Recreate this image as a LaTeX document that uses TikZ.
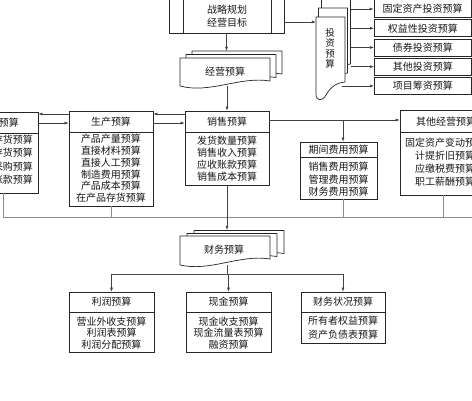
\documentclass[tikz,border=0pt]{standalone}
\usepackage{fontspec}
\setmainfont{Noto Sans CJK SC}
\usetikzlibrary{arrows.meta,fit}
\newcommand{\invdoc}{(316,17) -- (345,17) -- (345,82) .. controls (335,83) and (330,88) .. (326,95) .. controls (322,102) and (316,101) .. (316,94) -- cycle}
\newcommand{\opbdoc}{(180,58) -- (270,58) -- (270,81) .. controls (240,76) and (210,94) .. (180,86) -- cycle}
\newcommand{\findoc}{(180,236) -- (270,236) -- (270,259) .. controls (240,254) and (210,272) .. (180,265) -- cycle}
\begin{document}
\begin{tikzpicture}[x=1pt,y=-1pt,
  bx/.style={draw=black!85, line width=0.7pt, fill=white, inner sep=0pt},
  ghost/.style={inner sep=0pt},
  hl/.style={draw=black!85, line width=0.7pt},
  tx/.style={font=\fontsize{10}{12}\selectfont, inner sep=0pt, text=black!90},
  arr/.style={draw=black!75, line width=0.6pt, -{Latex[length=4pt,width=3pt]}},
  ln/.style={draw=black!45, line width=0.7pt},
  ln2/.style={draw=black!70, line width=0.6pt},
  doc/.style={draw=black!85, line width=0.7pt, fill=white, line join=round},
]
\useasboundingbox (0,0) rectangle (472,400);
\clip (0,0) rectangle (472,400);
\fill[white] (0,0) rectangle (472,400);

% ---------- helper coordinates
\coordinate (yA) at (0,22);
\coordinate (yU) at (0,114);
\coordinate (yL) at (0,123);
\coordinate (yR) at (0,120);
\coordinate (bus) at (0,217);
\coordinate (busE) at (480,217);
\coordinate (bus2) at (0,274);
\coordinate (xL) at (3,0);
\coordinate (xP) at (343,0);
\coordinate (xO) at (443,0);
\coordinate (xC) at (227,0);

% ---------- boxes
\node[bx, fit={(169,-6) (284,33)}] (strat) {};
\draw[hl] (183,-6) -- (183,33) (271,-6) -- (271,33);
\node[tx, align=center, font=\fontsize{10}{13}\selectfont] (stratT) at (227,16.5) {战略规划\\经营目标};

\node[ghost, fit={(316,-1) (350.5,101)}] (inv) {};
\node[ghost, fit={(180,51) (282,86)}] (opb) {};
\node[ghost, fit={(180,230) (284,265)}] (fin) {};

\node[bx, fit={(374,-6) (471,17.5)}] (b1) {};
\node[tx] (b1t) at (422.5,9) {固定资产投资预算};
\node[bx, minimum width=97pt, minimum height=17pt, anchor=west, tx, draw=black!85, fill=white] (b2) at (374,28.2) {权益性投资预算};
\node[bx, minimum width=97pt, minimum height=17pt, anchor=west, tx, draw=black!85, fill=white] (b3) at (374,47.5) {债券投资预算};
\node[bx, minimum width=97pt, minimum height=17pt, anchor=west, tx, draw=black!85, fill=white] (b4) at (374,66.7) {其他投资预算};
\node[bx, minimum width=97pt, minimum height=17pt, anchor=west, tx, draw=black!85, fill=white] (b5) at (374,86) {项目筹资预算};

% left (cut) box
\node[bx, fit={(-60,112) (38,193)}] (purch) {};
\draw[hl] (-60,133) -- (38,133);
\node[tx] (purchH) at (-1,123) {采购预算};
\node[tx, align=center, font=\fontsize{10}{13.5}\selectfont] (purchI) at (3,159.5) {材料存货预算\\产品存货预算\\材料采购预算\\应付账款预算};

% production
\node[bx, fit={(69,111) (153,206)}] (prod) {};
\draw[hl] (69,132) -- (153,132);
\node[tx] (prodH) at (111,121.5) {生产预算};
\node[tx, align=center, font=\fontsize{10}{11.8}\selectfont] (prodI) at (111,168.5) {产品产量预算\\直接材料预算\\直接人工预算\\制造费用预算\\产品成本预算\\在产品存货预算};

% sales
\node[bx, fit={(185,111) (269,185)}] (sales) {};
\draw[hl] (185,132) -- (269,132);
\node[tx] (salesH) at (227,122) {销售预算};
\node[tx, align=center, font=\fontsize{10}{12}\selectfont] (salesI) at (227,158.5) {发货数量预算\\销售收入预算\\应收账款预算\\销售成本预算};

% period expenses
\node[bx, fit={(300,142) (377,199)}] (period) {};
\draw[hl] (300,157) -- (377,157);
\node[tx] (periodH) at (338.5,150) {期间费用预算};
\node[tx, align=center, font=\fontsize{10}{12.5}\selectfont] (periodI) at (338.5,179.5) {销售费用预算\\管理费用预算\\财务费用预算};

% other operating
\node[bx, fit={(400,110) (490,195)}] (other) {};
\draw[hl] (400,132) -- (490,132);
\node[tx] (otherH) at (446,122) {其他经营预算};
\node[tx, align=center, font=\fontsize{10}{13}\selectfont] (otherI) at (445,162.5) {固定资产变动预算\\计提折旧预算\\应缴税费预算\\职工薪酬预算};

% bottom boxes
\node[bx, fit={(69,292) (154,352)}] (profit) {};
\draw[hl] (69,312) -- (154,312);
\node[tx] (profitH) at (111.5,302) {利润预算};
\node[tx, align=center, font=\fontsize{10}{11.2}\selectfont] (profitI) at (111.5,333) {营业外收支预算\\利润表预算\\利润分配预算};

\node[bx, fit={(186,292) (271,352)}] (cash) {};
\draw[hl] (186,312) -- (271,312);
\node[tx] (cashH) at (228.5,302) {现金预算};
\node[tx, align=center, font=\fontsize{10}{11.2}\selectfont] (cashI) at (228.5,333) {现金收支预算\\现金流量表预算\\融资预算};

\node[bx, fit={(301,292) (385,343)}] (fstat) {};
\draw[hl] (301,312) -- (385,312);
\node[tx] (fstatH) at (343,302) {财务状况预算};
\node[tx, align=center, font=\fontsize{10}{14}\selectfont] (fstatI) at (343,328) {所有者权益预算\\资产负债表预算};

% ---------- connectors
\draw[arr] (strat.east |- yA) -- (inv.west |- yA);
\draw[arr] (strat.south) -- (strat.south |- opb.north);
\draw[arr] (sales.north |- opb.south) -- (sales.north);
\draw[arr] (sales.west |- yU) -- (prod.east |- yU);
\draw[arr] (prod.east |- yL) -- (sales.west |- yL);
\draw[arr] (prod.west |- yU) -- (purch.east |- yU);
\draw[arr] (purch.east |- yL) -- (prod.west |- yL);
\draw[arr] (sales.east |- yR) -- (other.west |- yR);
\draw[arr] (xP |- yR) -- (xP |- period.north);

\draw[ln] (xL |- purch.south) -- (xL |- bus) -- (busE);
\draw[ln] (prod.south) -- (prod.south |- bus);
\draw[ln] (xP |- period.south) -- (xP |- bus);
\draw[ln] (xO |- other.south) -- (xO |- bus);
\draw[arr] (sales.south) -- (sales.south |- fin.north);

\draw[ln2] (xC |- fin.south) -- (xC |- bus2);
\draw[ln2] (profit.north |- bus2) -- (fstat.north |- bus2);
\draw[arr] (profit.north |- bus2) -- (profit.north);
\draw[arr] (cash.north |- bus2) -- (cash.north);
\draw[arr] (fstat.north |- bus2) -- (fstat.north);

\draw[arr] (inv.east |- b1t) -- (b1.west |- b1t);
\draw[arr] (inv.east |- b2) -- (b2.west);
\draw[arr] (inv.east |- b3) -- (b3.west);
\draw[arr] (inv.east |- b4) -- (b4.west);
\draw[arr] ([xshift=-9pt]inv.east |- b5) -- (b5.west);

% ---------- document shapes
\draw[doc, shift={(5.5,-18)}] \invdoc;
\draw[doc, shift={(2.5,-9)}] \invdoc;
\draw[doc] \invdoc;
\node[tx, align=center, font=\fontsize{9.5}{10.3}\selectfont] (invT) at (330,48.5) {投\\资\\预\\算};

\draw[doc, shift={(12,-7)}] \opbdoc;
\draw[doc, shift={(6,-3.5)}] \opbdoc;
\draw[doc] \opbdoc;
\node[tx] (opbT) at (225,72) {经营预算};

\draw[doc, shift={(14,-5.5)}] \findoc;
\draw[doc, shift={(7,-2.5)}] \findoc;
\draw[doc] \findoc;
\node[tx] (finT) at (224,250) {财务预算};
\end{tikzpicture}
\end{document}
